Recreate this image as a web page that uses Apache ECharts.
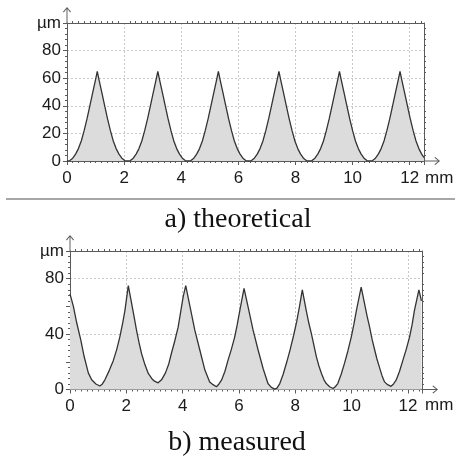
<!DOCTYPE html>
<html lang="en">
<head>
<meta charset="UTF-8">
<title>profile</title>
<style>
html, body { margin: 0; padding: 0; background: #fff; }
#chart { width: 455px; height: 463px; }
</style>
</head>
<body>
<div id="chart"></div>
<script src="https://cdn.jsdelivr.net/npm/echarts@6/dist/echarts.min.js"></script>
<script>
// a) theoretical profile (x in mm, y in µm)
var thX = [0, 0.1, 0.2, 0.3, 0.4, 0.5, 0.6, 0.7, 0.8, 0.9, 1.0, 1.06, 1.12, 1.22, 1.32, 1.42, 1.52, 1.62, 1.72, 1.82, 1.92, 2.02,
  2.12, 2.22, 2.32, 2.42, 2.52, 2.62, 2.72, 2.82, 2.92, 3.02, 3.12, 3.18, 3.24, 3.34, 3.44, 3.54, 3.64, 3.74, 3.84, 3.94, 4.04, 4.14,
  4.24, 4.34, 4.44, 4.54, 4.64, 4.74, 4.84, 4.94, 5.04, 5.14, 5.24, 5.30, 5.36, 5.46, 5.56, 5.66, 5.76, 5.86, 5.96, 6.06, 6.16, 6.26,
  6.36, 6.46, 6.56, 6.66, 6.76, 6.86, 6.96, 7.06, 7.16, 7.26, 7.36, 7.42, 7.48, 7.58, 7.68, 7.78, 7.88, 7.98, 8.08, 8.18, 8.28, 8.38,
  8.48, 8.58, 8.68, 8.78, 8.88, 8.98, 9.08, 9.18, 9.28, 9.38, 9.48, 9.54, 9.60, 9.70, 9.80, 9.90, 10.00, 10.10, 10.20, 10.30, 10.40, 10.50,
  10.60, 10.70, 10.80, 10.90, 11.00, 11.10, 11.20, 11.30, 11.40, 11.50, 11.60, 11.66, 11.72, 11.82, 11.92, 12.02, 12.12, 12.22, 12.32, 12.42, 12.50];
var thY = [0, 0.3, 2, 5, 9, 14.5, 22, 30.5, 40, 49.5, 59, 65, 59, 49.5, 40, 30.5, 22, 14.5, 9, 5, 2, 0.3,
  0, 0.3, 2, 5, 9, 14.5, 22, 30.5, 40, 49.5, 59, 65, 59, 49.5, 40, 30.5, 22, 14.5, 9, 5, 2, 0.3,
  0, 0.3, 2, 5, 9, 14.5, 22, 30.5, 40, 49.5, 59, 65, 59, 49.5, 40, 30.5, 22, 14.5, 9, 5, 2, 0.3,
  0, 0.3, 2, 5, 9, 14.5, 22, 30.5, 40, 49.5, 59, 65, 59, 49.5, 40, 30.5, 22, 14.5, 9, 5, 2, 0.3,
  0, 0.3, 2, 5, 9, 14.5, 22, 30.5, 40, 49.5, 59, 65, 59, 49.5, 40, 30.5, 22, 14.5, 9, 5, 2, 0.3,
  0, 0.3, 2, 5, 9, 14.5, 22, 30.5, 40, 49.5, 59, 65, 59, 49.5, 40, 30.5, 22, 14.5, 9, 5, 2.5];

// b) measured profile
var msX = [0, 0.12, 0.24, 0.38, 0.5, 0.65, 0.77, 0.92, 1.06, 1.15,
  1.24, 1.4, 1.54, 1.66, 1.77, 1.87, 1.95, 2.07, 2.19, 2.28,
  2.36, 2.45, 2.54, 2.66, 2.78, 2.9, 3.0, 3.13, 3.25, 3.39,
  3.5, 3.6, 3.72, 3.84, 3.93, 4.02, 4.11, 4.26, 4.43, 4.61,
  4.79, 4.96, 5.08, 5.2, 5.29, 5.38, 5.5, 5.61, 5.73, 5.85,
  5.94, 6.03, 6.18, 6.32, 6.5, 6.68, 6.86, 7.03, 7.15, 7.27,
  7.35, 7.45, 7.57, 7.7, 7.82, 7.94, 8.05, 8.15, 8.25, 8.39,
  8.48, 8.57, 8.66, 8.75, 8.84, 8.93, 9.02, 9.1, 9.22, 9.34,
  9.42, 9.51, 9.63, 9.75, 9.87, 9.99, 10.08, 10.17, 10.34, 10.46,
  10.55, 10.64, 10.73, 10.82, 10.9, 10.99, 11.08, 11.17, 11.28, 11.4,
  11.49, 11.58, 11.7, 11.82, 11.94, 12.06, 12.15, 12.23, 12.39, 12.48];
var msY = [69, 60, 48, 36, 24, 12, 7, 4, 2.5, 4,
  7, 14, 21, 29, 38, 48, 57, 75, 62, 52,
  43, 34, 26, 18, 11.6, 8, 6, 4.8, 7, 12,
  18, 26, 35, 45, 56, 67, 75, 60, 43, 28.5,
  14, 5.5, 3.5, 2, 4, 6.7, 13, 21, 29, 38,
  47, 57, 73, 60, 43, 28.5, 15, 4.3, 1.5, 0.3,
  1, 4.3, 11, 20, 29, 39, 49, 60, 72, 57,
  48, 40.5, 32, 23.6, 17, 11.6, 7, 4.3, 2, 0.7,
  2, 4.3, 11, 19, 28, 38, 47, 57, 74, 62,
  53, 45, 36, 28.5, 22, 16, 10, 5.5, 3.5, 2.3,
  4, 6.7, 13, 21, 29, 38, 47, 57, 72, 64];

// tick labels
var xTicks = [0, 2, 4, 6, 8, 10, 12];
var thYTicks = [0, 20, 40, 60, 80];
var msYTicks = [0, 40, 80];

var font = 'Liberation Sans';
var lineCol = '#5a5a5a';
var gridCol = '#c8c8c8';
var textCol = '#1a1a1a';
// open arrow head with a short shaft, points up before rotation
var arrowPath = 'path://M5,0 L10,6 L9,7 L5.6,2.5 L5.6,20 L4.4,20 L4.4,2.5 L1,7 L0,6 Z';

function pairs(xs, ys) {
  return xs.map(function (x, i) { return [x, ys[i]]; });
}

function xMain(gi, margin, namePad, nameGap) {
  return {
    type: 'value', gridIndex: gi, position: 'bottom', min: 0, max: 12.5, interval: 2,
    name: 'mm', nameLocation: 'end', nameGap: nameGap,
    nameTextStyle: { color: textCol, fontSize: 17, fontFamily: font, align: 'left', verticalAlign: 'top', padding: [namePad, 0, 0, 0] },
    axisLine: { show: true, onZero: false, lineStyle: { color: lineCol, width: 1 }, symbol: ['none', arrowPath], symbolSize: [8, 16], symbolOffset: [0, 8] },
    axisTick: { show: true, length: 4, lineStyle: { color: lineCol } },
    minorTick: { show: true, splitNumber: 10, length: 2, lineStyle: { color: lineCol } },
    axisLabel: {
      color: textCol, fontSize: 17, fontFamily: font, margin: margin,
      formatter: function (v) { return xTicks.indexOf(v) >= 0 ? String(v) : ''; }
    },
    splitLine: { show: true, lineStyle: { color: gridCol, type: [2, 2], width: 1 } }
  };
}

function xTop(gi) {
  return {
    type: 'value', gridIndex: gi, position: 'top', min: 0, max: 12.5, interval: 2,
    axisLine: { show: true, onZero: false, lineStyle: { color: lineCol, width: 1 } },
    axisTick: { show: false },
    minorTick: { show: true, splitNumber: 10, length: 2, lineStyle: { color: lineCol } },
    axisLabel: { show: false },
    splitLine: { show: false }
  };
}

function yMain(gi, interval, minorSplit, ticks) {
  return {
    type: 'value', gridIndex: gi, position: 'left', min: 0, max: 100, interval: interval,
    axisLine: { show: true, onZero: false, lineStyle: { color: lineCol, width: 1 }, symbol: ['none', arrowPath], symbolSize: [8, 16], symbolOffset: [0, 8] },
    axisTick: { show: true, length: 4, lineStyle: { color: lineCol } },
    minorTick: { show: true, splitNumber: minorSplit, length: 2, lineStyle: { color: lineCol } },
    axisLabel: {
      color: textCol, fontSize: 17, fontFamily: font, margin: 6,
      formatter: function (v) {
        if (v === 100) return 'µm';
        return ticks.indexOf(v) >= 0 ? String(v) : '';
      }
    },
    splitLine: { show: true, lineStyle: { color: gridCol, type: [2, 2], width: 1 } }
  };
}

function yRight(gi, interval, minorSplit) {
  return {
    type: 'value', gridIndex: gi, position: 'right', min: 0, max: 100, interval: interval,
    axisLine: { show: true, onZero: false, lineStyle: { color: lineCol, width: 1 } },
    axisTick: { show: false },
    minorTick: { show: true, splitNumber: minorSplit, length: 2, lineStyle: { color: lineCol } },
    axisLabel: { show: false },
    splitLine: { show: false }
  };
}

var chart = echarts.init(document.getElementById('chart'), null, { renderer: 'canvas' });

var option = {
  animation: false,
  backgroundColor: '#fff',
  title: [
    {
      text: 'a) theoretical', left: 233, top: 201, textAlign: 'center',
      textStyle: { fontFamily: 'Liberation Serif', fontSize: 28, fontWeight: 'normal', color: '#111' }
    },
    {
      text: 'b) measured', left: 232, top: 424, textAlign: 'center',
      textStyle: { fontFamily: 'Liberation Serif', fontSize: 28, fontWeight: 'normal', color: '#111' }
    }
  ],
  graphic: [
    { type: 'line', shape: { x1: 6, y1: 199, x2: 455, y2: 199 }, style: { stroke: '#8a8a8a', lineWidth: 1.5 } }
  ],
  grid: [
    { left: 67, top: 23, width: 357, height: 138, containLabel: false, outerBoundsMode: 'none' },
    { left: 70, top: 251, width: 352, height: 138.5, containLabel: false, outerBoundsMode: 'none' }
  ],
  xAxis: [
    xMain(0, 9, 9, 1),
    xTop(0),
    xMain(1, 8, 7, 3),
    xTop(1)
  ],
  yAxis: [
    yMain(0, 20, 5, thYTicks),
    yRight(0, 20, 5),
    yMain(1, 40, 10, msYTicks),
    yRight(1, 20, 5),
    {
      // medium ticks every 20 µm on the measured plot
      type: 'value', gridIndex: 1, position: 'left', min: 0, max: 100, interval: 20,
      axisLine: { show: false, onZero: false },
      axisTick: { show: true, length: 4, lineStyle: { color: lineCol } },
      axisLabel: { show: false },
      splitLine: { show: false }
    }
  ],
  series: [
    {
      name: 'theoretical', type: 'line', xAxisIndex: 0, yAxisIndex: 0,
      data: pairs(thX, thY),
      symbol: 'none', showSymbol: false,
      lineStyle: { color: '#333', width: 1.3 },
      areaStyle: { color: '#dcdcdc', opacity: 1 }
    },
    {
      name: 'measured', type: 'line', xAxisIndex: 2, yAxisIndex: 2,
      data: pairs(msX, msY),
      symbol: 'none', showSymbol: false,
      lineStyle: { color: '#333', width: 1.3 },
      areaStyle: { color: '#dcdcdc', opacity: 1 }
    }
  ]
};
chart.setOption(option);
</script>
</body>
</html>
